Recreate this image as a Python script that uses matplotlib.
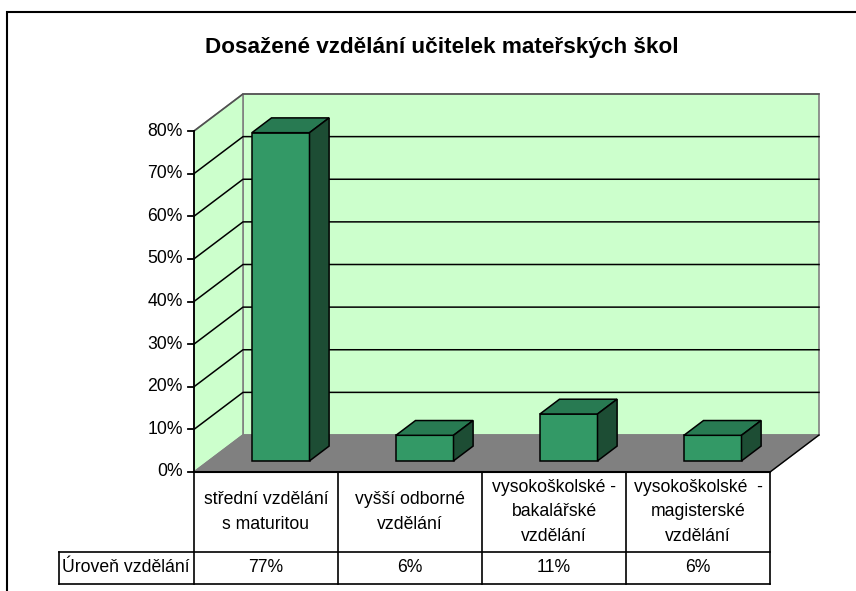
import matplotlib
matplotlib.use("Agg")
import matplotlib.pyplot as plt
from matplotlib.patches import Polygon, Rectangle
from matplotlib.lines import Line2D

plt.rcParams['font.family'] = ['Liberation Sans', 'DejaVu Sans']

# ---- data ----
title = "Dosažené vzdělání učitelek mateřských škol"
categories = [
    "střední vzdělání\ns maturitou",
    "vyšší odborné\nvzdělání",
    "vysokoškolské -\nbakalářské\nvzdělání",
    "vysokoškolské  -\nmagisterské\nvzdělání",
]
values = [77, 6, 11, 6]
value_labels = ["77%", "6%", "11%", "6%"]
series_name = "Úroveň vzdělání"
y_ticks = [0, 10, 20, 30, 40, 50, 60, 70, 80]
y_tick_labels = ["0%", "10%", "20%", "30%", "40%", "50%", "60%", "70%", "80%"]

# ---- layout (pixels of the 856x591 canvas) ----
W, H = 856, 591
X0_PX, Y0_PX = 194, 472            # front-left corner of the floor
CAT_PX = 144                       # width of one category
PCT_PX = (472 - 131) / 80          # pixels per percent
n = len(categories)
ymax = y_ticks[-1]
FS = 12.7

# oblique depth of the plot box, in data units
DX = 49 / CAT_PX
DY = 37 / PCT_PX
BAR_W = 0.4
BAR_D0, BAR_D1 = 0.30, 0.70        # bar front/back as fraction of depth

fig = plt.figure(figsize=(W / 100, H / 100), dpi=100)
ax = fig.add_axes([0, 0, 1, 1])
ax.set_xlim(-X0_PX / CAT_PX, n + (W - X0_PX - n * CAT_PX) / CAT_PX)
ax.set_ylim(-(H - Y0_PX) / PCT_PX, ymax + (Y0_PX - ymax * PCT_PX) / PCT_PX)
ax.axis('off')

# outer chart frame
fig.patches.append(Rectangle((7 / W, -0.05), 1.1, 1 - 12 / H + 0.05,
                             transform=fig.transFigure, fill=False,
                             edgecolor='black', linewidth=1.5))

WALL = '#CCFFCC'
FLOOR = '#808080'
EDGE = '#808080'

# walls and floor
ax.add_patch(Polygon([(DX, DY), (n + DX, DY), (n + DX, ymax + DY), (DX, ymax + DY)],
                     closed=True, facecolor=WALL, edgecolor=EDGE, linewidth=1.2, zorder=1))
ax.add_patch(Polygon([(0, 0), (DX, DY), (DX, ymax + DY), (0, ymax)],
                     closed=True, facecolor=WALL, edgecolor=EDGE, linewidth=1.2, zorder=1))
ax.add_patch(Polygon([(0, 0), (n, 0), (n + DX, DY), (DX, DY)],
                     closed=True, facecolor=FLOOR, edgecolor=FLOOR, linewidth=1, zorder=1))

# gridlines across side and back walls
for t in y_ticks[1:]:
    col = '#505050' if t == ymax else 'black'
    ax.add_line(Line2D([0, DX, n + DX], [t, t + DY, t + DY],
                       color=col, linewidth=1.1, zorder=2))

# value axis with outward ticks and labels
ax.add_line(Line2D([0, 0], [0, ymax], color='black', linewidth=1.3, zorder=3))
tick_len = 6 / CAT_PX
for t, lab in zip(y_ticks, y_tick_labels):
    ax.add_line(Line2D([-tick_len, 0], [t, t], color='black', linewidth=1.3, zorder=3))
    ax.text(-11 / CAT_PX, t, lab, ha='right', va='center', fontsize=FS, zorder=3)

# 3D bars
FRONT = '#339966'
TOP = '#287A52'
SIDE = '#1D4D34'
bx_off, by_off = BAR_D0 * DX, BAR_D0 * DY
ddx, ddy = (BAR_D1 - BAR_D0) * DX, (BAR_D1 - BAR_D0) * DY
for i, v in enumerate(values):
    x0 = i + 0.5 - BAR_W / 2 + bx_off
    x1 = x0 + BAR_W
    y0 = by_off
    y1 = y0 + v
    kw = dict(closed=True, edgecolor='black', linewidth=1.1, zorder=4)
    ax.add_patch(Polygon([(x0, y0), (x1, y0), (x1, y1), (x0, y1)], facecolor=FRONT, **kw))
    ax.add_patch(Polygon([(x0, y1), (x1, y1), (x1 + ddx, y1 + ddy), (x0 + ddx, y1 + ddy)],
                         facecolor=TOP, **kw))
    ax.add_patch(Polygon([(x1, y0), (x1 + ddx, y0 + ddy), (x1 + ddx, y1 + ddy), (x1, y1)],
                         facecolor=SIDE, **kw))

# data table under the plot
row1_bot = -(552 - Y0_PX) / PCT_PX
row2_bot = -(584 - Y0_PX) / PCT_PX
hdr_left = -(X0_PX - 59) / CAT_PX
lw = 1.2
ax.add_line(Line2D([0, n], [0, 0], color='black', linewidth=1.5, zorder=5))
ax.add_line(Line2D([hdr_left, n], [row1_bot, row1_bot], color='black', linewidth=lw, zorder=5))
ax.add_line(Line2D([hdr_left, n], [row2_bot, row2_bot], color='black', linewidth=lw, zorder=5))
ax.add_line(Line2D([hdr_left, hdr_left], [row1_bot, row2_bot], color='black', linewidth=lw, zorder=5))
for i in range(n + 1):
    ax.add_line(Line2D([i, i], [0, row2_bot], color='black', linewidth=lw, zorder=5))
# right edge of the floor
ax.add_line(Line2D([n, n + DX], [0, DY], color='black', linewidth=1.0, zorder=5))

for i, (cat, vl) in enumerate(zip(categories, value_labels)):
    ax.text(i + 0.5, row1_bot / 2, cat, ha='center', va='center', fontsize=FS,
            linespacing=1.6, zorder=6)
    ax.text(i + 0.5, (row1_bot + row2_bot) / 2, vl, ha='center', va='center',
            fontsize=FS, zorder=6)
ax.text(hdr_left + 3 / CAT_PX, (row1_bot + row2_bot) / 2, series_name,
        ha='left', va='center', fontsize=FS, zorder=6)

fig.text(442 / W, 1 - 48 / H, title, ha='center', va='center',
         fontsize=16.2, fontweight='bold')

fig.savefig('out.png', dpi=100, facecolor='white')
